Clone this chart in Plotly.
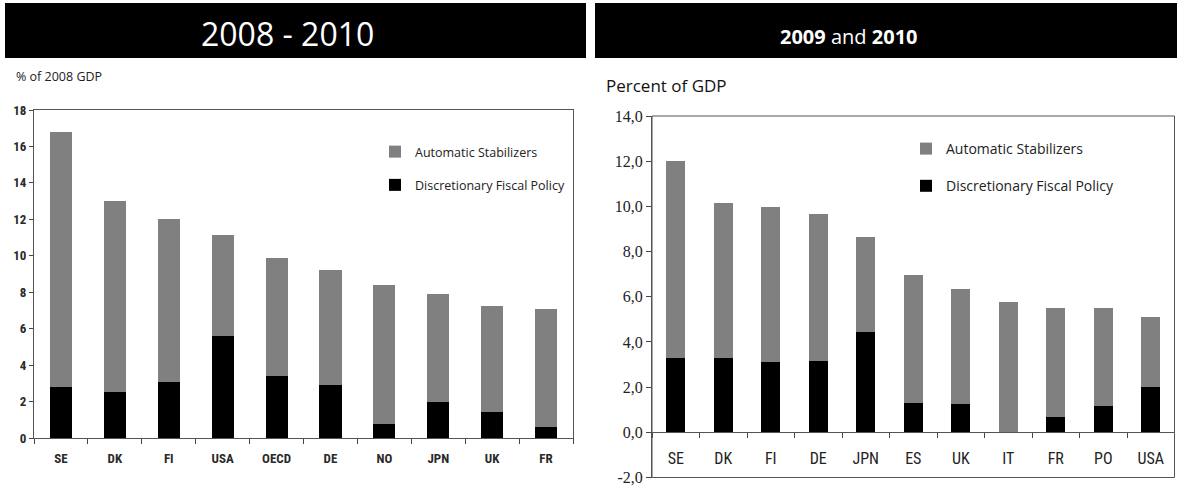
import plotly.graph_objects as go

W, H = 1177, 488

# Panel A: 2008 - 2010, % of 2008 GDP
cats_a = ["SE", "DK", "FI", "USA", "OECD", "DE", "NO", "JPN", "UK", "FR"]
disc_a = [2.8, 2.5, 3.1, 5.6, 3.4, 2.9, 0.75, 2.0, 1.4, 0.6]
auto_a = [14.0, 10.5, 8.9, 5.55, 6.5, 6.3, 7.65, 5.9, 5.85, 6.5]
ticks_a = list(range(0, 19, 2))

# Panel B: 2009 and 2010, percent of GDP
cats_b = ["SE", "DK", "FI", "DE", "JPN", "ES", "UK", "IT", "FR", "PO", "USA"]
disc_b = [3.3, 3.27, 3.1, 3.15, 4.45, 1.3, 1.25, 0.0, 0.7, 1.15, 2.0]
auto_b = [8.7, 6.88, 6.87, 6.51, 4.21, 5.68, 5.11, 5.76, 4.82, 4.37, 3.1]
ticks_b = list(range(-2, 15, 2))
ticktext_b = [f"{v:.1f}".replace(".", ",") for v in ticks_b]

GREY = "#808080"
BLACK = "#000000"
NARROW = "Roboto Condensed, DejaVu Sans Condensed, sans-serif"
SANS = "Open Sans, Noto Sans, sans-serif"
SERIF = "Liberation Serif, serif"


def px(x):
    return x / W


def py(y):
    return 1 - y / H


xa_dom = [px(34), px(573)]
ya_dom = [py(438), py(110)]
xb_dom = [px(652), px(1174.5)]
yb_dom = [py(477.5), py(116)]
# category axis of panel B sits on the zero line
yb_zero = yb_dom[0] + (0 - ticks_b[0]) / (ticks_b[-1] - ticks_b[0]) * (yb_dom[1] - yb_dom[0])

fig = go.Figure()

fig.add_trace(go.Bar(x=cats_a, y=disc_a, name="Discretionary Fiscal Policy",
                     marker=dict(color=BLACK, line=dict(width=0)), width=0.41,
                     xaxis="x", yaxis="y", legend="legend", legendgroup="a_disc", legendrank=2))
fig.add_trace(go.Bar(x=cats_a, y=auto_a, name="Automatic Stabilizers",
                     marker=dict(color=GREY, line=dict(width=0)), width=0.41,
                     xaxis="x", yaxis="y", legend="legend", legendgroup="a_auto", legendrank=1))
fig.add_trace(go.Bar(x=cats_b, y=disc_b, name="Discretionary Fiscal Policy",
                     marker=dict(color=BLACK, line=dict(width=0)), width=0.4,
                     xaxis="x2", yaxis="y2", legend="legend2", legendgroup="b_disc", legendrank=2))
fig.add_trace(go.Bar(x=cats_b, y=auto_b, name="Automatic Stabilizers",
                     marker=dict(color=GREY, line=dict(width=0)), width=0.4,
                     xaxis="x2", yaxis="y2", legend="legend2", legendgroup="b_auto", legendrank=1))

shapes = [
    # title bands
    dict(type="rect", xref="paper", yref="paper", x0=px(5), x1=px(586), y0=py(58), y1=py(3),
         fillcolor="black", line=dict(width=0), layer="below"),
    dict(type="rect", xref="paper", yref="paper", x0=px(595), x1=px(1177), y0=py(58), y1=py(3),
         fillcolor="black", line=dict(width=0), layer="below"),
    # frame of panel B
    dict(type="rect", xref="x2 domain", yref="y2 domain", x0=0, x1=1, y0=0, y1=1,
         line=dict(color="#555555", width=1), fillcolor="rgba(0,0,0,0)"),
]

annotations = [
    dict(text="2008 - 2010", x=px(287), y=py(33), xref="paper", yref="paper",
         xanchor="center", yanchor="middle",
         showarrow=False, font=dict(family=SANS, size=32, color="white")),
    dict(text="<b>2009</b> and <b>2010</b>", x=px(849), y=py(37), xref="paper", yref="paper",
         xanchor="center", yanchor="middle",
         showarrow=False, font=dict(family=SANS, size=20, color="white")),
    dict(text="% of 2008 GDP", x=px(14), y=py(76), xref="paper", yref="paper",
         xanchor="left", yanchor="middle",
         showarrow=False, font=dict(family=SANS, size=12.5, color="#222222")),
    dict(text="Percent of GDP", x=px(604), y=py(85), xref="paper", yref="paper",
         xanchor="left", yanchor="middle",
         showarrow=False, font=dict(family=SANS, size=17, color="#111111")),
]

fig.update_layout(
    width=W, height=H,
    margin=dict(l=0, r=0, t=0, b=0, autoexpand=False),
    paper_bgcolor="white", plot_bgcolor="white",
    barmode="stack",
    separators=",.",
    shapes=shapes,
    annotations=annotations,
    xaxis=dict(domain=xa_dom, anchor="y", type="category", showgrid=False, zeroline=False,
               automargin=False,
               showline=True, linecolor="#555555", linewidth=1, mirror=True,
               ticks="outside", ticklen=5, tickcolor="#444444", tickson="boundaries",
               ticklabelstandoff=8,
               tickfont=dict(family=NARROW, size=13, color="#2a2a2a", weight="bold")),
    yaxis=dict(domain=ya_dom, anchor="x", range=[0, 18], tickvals=ticks_a, showgrid=False,
               automargin=False,
               zeroline=False, showline=True, linecolor="#555555", linewidth=1, mirror=True,
               ticks="outside", ticklen=4, tickcolor="#444444",
               tickfont=dict(family=NARROW, size=13, color="#2a2a2a", weight="bold")),
    xaxis2=dict(domain=xb_dom, anchor="free", position=yb_zero, type="category",
                automargin=False,
                showgrid=False, zeroline=False, showline=True, linecolor="#555555", linewidth=1,
                ticks="outside", ticklen=5, tickcolor="#444444", tickson="boundaries",
                ticklabelstandoff=11,
                tickfont=dict(family=NARROW, size=16, color="#222222")),
    yaxis2=dict(domain=yb_dom, anchor="x2", range=[-2, 14], tickvals=ticks_b, ticktext=ticktext_b,
                automargin=False,
                showgrid=False, zeroline=False, showline=True, linecolor="#555555", linewidth=1,
                ticks="outside", ticklen=5, tickcolor="#444444",
                tickfont=dict(family=SERIF, size=16, color="#222222")),
    legend=dict(x=px(375), y=py(137), xanchor="left", yanchor="top", bgcolor="rgba(0,0,0,0)",
                font=dict(family=SANS, size=12.5, color="#222222"), tracegroupgap=14),
    legend2=dict(x=px(906), y=py(133), xanchor="left", yanchor="top", bgcolor="rgba(0,0,0,0)",
                 font=dict(family=SANS, size=14, color="#222222"), tracegroupgap=16),
)

fig.write_html("out.html")
